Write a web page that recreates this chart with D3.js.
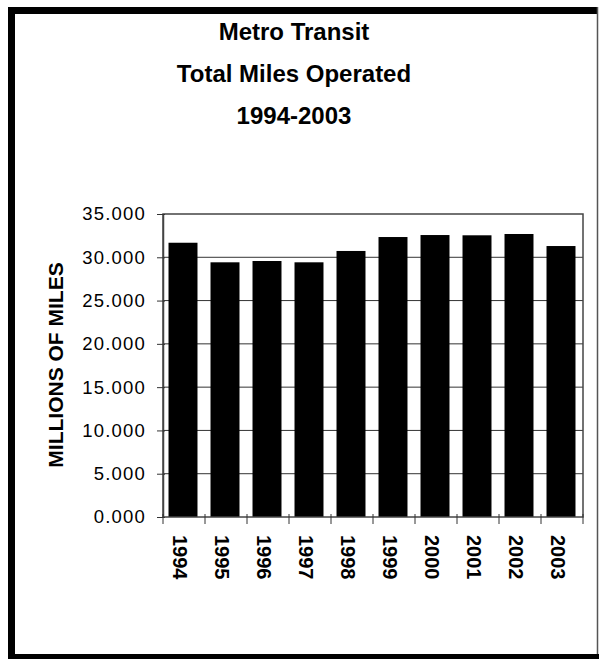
<!DOCTYPE html>
<html>
<head>
<meta charset="utf-8">
<script src="https://cdn.jsdelivr.net/npm/d3@7"></script>
<style>
  body { margin: 0; background: #fff; }
  svg { display: block; font-family: "Liberation Sans", Arial, sans-serif; }
</style>
</head>
<body>
<svg width="599" height="659"></svg>
<script>
const YEARS = ["1994", "1995", "1996", "1997", "1998", "1999", "2000", "2001", "2002", "2003"];
const MILES = [31.68, 29.42, 29.57, 29.42, 30.73, 32.34, 32.57, 32.54, 32.69, 31.30];
const Y_TICKS = [0, 5, 10, 15, 20, 25, 30, 35];
const TITLE_LINES = ["Metro Transit", "Total Miles Operated", "1994-2003"];

const MARGINS = { top: 214, right: 16, bottom: 142, left: 163 };
const WIDTH = 599 - MARGINS.left - MARGINS.right;
const HEIGHT = 659 - MARGINS.top - MARGINS.bottom;

const svg = d3.select('svg');

// outer frame (thick left/top/bottom, thin right like the scan)
svg.append('rect').attr('x', 8).attr('y', 7).attr('width', 590).attr('height', 7).attr('fill', '#000');
svg.append('rect').attr('x', 8).attr('y', 7).attr('width', 7).attr('height', 652).attr('fill', '#000');
svg.append('rect').attr('x', 8).attr('y', 654).attr('width', 591).attr('height', 5).attr('fill', '#000');
svg.append('line').attr('x1', 597.5).attr('x2', 597.5).attr('y1', 7).attr('y2', 654)
  .attr('stroke', '#555').attr('stroke-width', 1.5);

// title
svg.append('g').selectAll('text')
  .data(TITLE_LINES)
  .enter()
  .append('text')
  .attr('x', 294)
  .attr('y', (d, i) => 40 + i * 42)
  .attr('text-anchor', 'middle')
  .attr('font-size', '24px')
  .attr('font-weight', 'bold')
  .text(d => d);

const chart = svg.append('g').attr('transform', `translate(${MARGINS.left},${MARGINS.top})`);

//SCALES
const xScale = d3.scaleBand().domain(YEARS).range([0, WIDTH]).paddingInner(0.31).paddingOuter(0.155);
const yScale = d3.scaleLinear().domain([0, 35]).range([HEIGHT, 0]);

//GRID
chart.append('g')
  .selectAll('line')
  .data(Y_TICKS.slice(1, -1))
  .enter()
  .append('line')
  .attr('x1', 0).attr('x2', WIDTH)
  .attr('y1', d => yScale(d)).attr('y2', d => yScale(d))
  .attr('stroke', '#333').attr('stroke-width', 1);

//BARS
chart.selectAll('.bar')
  .data(YEARS)
  .enter()
  .append('rect')
  .classed('bar', true)
  .attr('x', d => xScale(d) - 1)
  .attr('y', (d, i) => yScale(MILES[i]))
  .attr('width', xScale.bandwidth())
  .attr('height', (d, i) => HEIGHT - yScale(MILES[i]))
  .attr('fill', '#000');

// plot border
chart.append('rect')
  .attr('width', WIDTH).attr('height', HEIGHT)
  .attr('fill', 'none').attr('stroke', '#444').attr('stroke-width', 1.5);

//Y AXIS
const yAxis = chart.append('g')
  .call(d3.axisLeft(yScale).tickValues(Y_TICKS).tickSize(6).tickSizeOuter(0).tickFormat(d3.format('.3f')));
yAxis.select('.domain').attr('stroke', '#444').attr('stroke-width', 1.5);
yAxis.selectAll('.tick line').attr('stroke', '#333').attr('x2', -6).attr('x1', 2);
yAxis.selectAll('.tick text')
  .attr('x', -17)
  .attr('font-size', '18.5px')
  .attr('letter-spacing', '1.2px')
  .attr('font-family', '"Liberation Sans", Arial, sans-serif')
  .attr('fill', '#000');

//X AXIS (ticks on band boundaries)
const bounds = YEARS.map(d => xScale(d) - xScale.step() * xScale.paddingInner() / 2).concat([WIDTH]);
bounds[0] = 0;
chart.append('g')
  .selectAll('line')
  .data(bounds)
  .enter()
  .append('line')
  .attr('x1', d => d).attr('x2', d => d)
  .attr('y1', HEIGHT - 3).attr('y2', HEIGHT + 7)
  .attr('stroke', '#333').attr('stroke-width', 1);

chart.append('g')
  .selectAll('text')
  .data(YEARS)
  .enter()
  .append('text')
  .attr('transform', d => `translate(${xScale(d) + xScale.bandwidth() / 2 - 4},${HEIGHT + 18}) rotate(90)`)
  .attr('dy', '0.35em')
  .attr('font-size', '20px')
  .attr('font-weight', 'bold')
  .text(d => d);

// axis title
svg.append('text')
  .attr('transform', 'translate(56,365) rotate(-90)')
  .attr('text-anchor', 'middle')
  .attr('dy', '0.35em')
  .attr('font-size', '21px')
  .attr('font-weight', 'bold')
  .text('MILLIONS OF MILES');
</script>
</body>
</html>
